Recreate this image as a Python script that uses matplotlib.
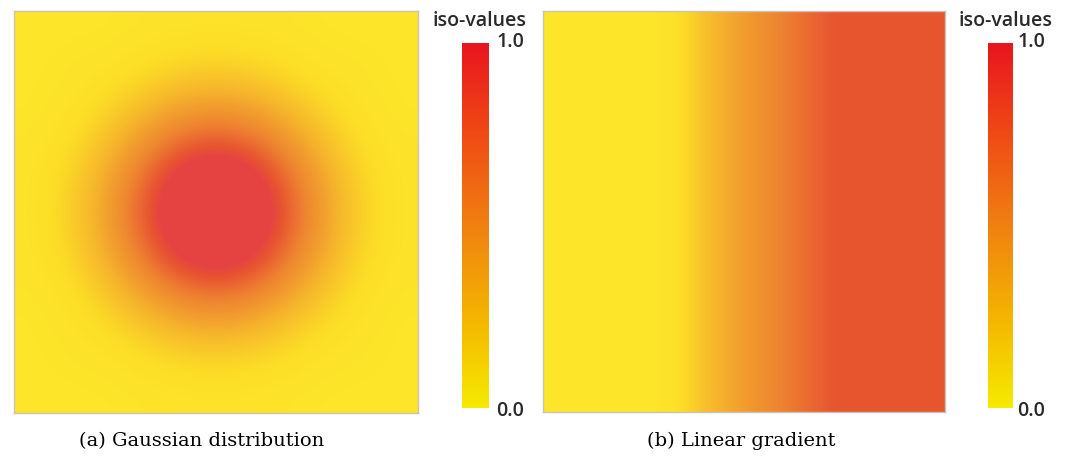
import numpy as np
import matplotlib
matplotlib.use("Agg")
import matplotlib.pyplot as plt
from matplotlib.colors import LinearSegmentedColormap, Normalize
from matplotlib.cm import ScalarMappable

# iso-values (values above 1.0 saturate to the top colour)
gaussian_grid = [
    [0.00, 0.00, 0.00, 0.01, 0.02, 0.02, 0.02, 0.01, 0.00, 0.00, 0.00],
    [0.00, 0.01, 0.02, 0.05, 0.08, 0.10, 0.08, 0.05, 0.02, 0.01, 0.00],
    [0.00, 0.02, 0.07, 0.16, 0.28, 0.33, 0.28, 0.16, 0.07, 0.02, 0.00],
    [0.01, 0.05, 0.16, 0.39, 0.66, 0.79, 0.66, 0.39, 0.16, 0.05, 0.01],
    [0.02, 0.08, 0.28, 0.66, 1.13, 1.34, 1.13, 0.66, 0.28, 0.08, 0.02],
    [0.02, 0.10, 0.33, 0.79, 1.34, 1.60, 1.34, 0.79, 0.33, 0.10, 0.02],
    [0.02, 0.08, 0.28, 0.66, 1.13, 1.34, 1.13, 0.66, 0.28, 0.08, 0.02],
    [0.01, 0.05, 0.16, 0.39, 0.66, 0.79, 0.66, 0.39, 0.16, 0.05, 0.01],
    [0.00, 0.02, 0.07, 0.16, 0.28, 0.33, 0.28, 0.16, 0.07, 0.02, 0.00],
    [0.00, 0.01, 0.02, 0.05, 0.08, 0.10, 0.08, 0.05, 0.02, 0.01, 0.00],
    [0.00, 0.00, 0.00, 0.01, 0.02, 0.02, 0.02, 0.01, 0.00, 0.00, 0.00],
]
gradient_row = [0.0, 0.0, 0.0, 0.0, 0.0, 0.0, 0.03, 0.12, 0.23, 0.33,
                0.43, 0.54, 0.64, 0.75, 0.85, 0.85, 0.85, 0.85, 0.85, 0.85]
bar_labels = ["0.0", "1.0"]
bar_title = "iso-values"
captions = ["(a) Gaussian distribution", "(b) Linear gradient"]

# colours
img_cmap = LinearSegmentedColormap.from_list("img", [
    (0.0, "#FDE52A"), (0.06, "#FCDE26"), (0.155, "#F9C62A"), (0.36, "#F2A02E"),
    (0.567, "#EE8430"), (0.77, "#EA6232"), (0.85, "#E8562F"), (1.0, "#E54242")])
img_cmap.set_over("#E54242")
img_cmap.set_under("#FDE52A")
bar_cmap = LinearSegmentedColormap.from_list("bar", [
    (0.0, "#F5EA00"), (0.25, "#F4B400"), (0.5, "#F08010"),
    (0.75, "#EF4A14"), (1.0, "#E8141E")])
norm = Normalize(vmin=0, vmax=1)

W, H = 1065, 466
fig = plt.figure(figsize=(W / 100, H / 100), dpi=100)

def px(x0, y0, x1, y1):
    return [x0 / W, 1 - y1 / H, (x1 - x0) / W, (y1 - y0) / H]

panels = [
    (np.array(gaussian_grid), "bicubic", px(14, 11, 418, 413), px(462, 43, 489, 408), 480, 510, 202),
    (np.array([gradient_row]), "bilinear", px(543, 11, 945, 412), px(988, 43, 1013, 408), 1006, 1031, 741),
]

for i, (data, interp, img_box, bar_box, tx, lx, cx) in enumerate(panels):
    ax = fig.add_axes(img_box)
    ax.imshow(data, cmap=img_cmap, norm=norm, interpolation=interp, aspect="auto")
    ax.set_xticks([])
    ax.set_yticks([])
    for s in ax.spines.values():
        s.set_color("#C9C4B8")
        s.set_linewidth(1.0)

    cax = fig.add_axes(bar_box)
    cb = fig.colorbar(ScalarMappable(norm=norm, cmap=bar_cmap), cax=cax)
    cb.outline.set_visible(False)
    cb.set_ticks([])

    fig.text(tx / W, 1 - 21 / H, bar_title, ha="center", va="center",
             fontsize=14, color="#2A2A2A", family="Open Sans", fontweight="semibold")
    fig.text(lx / W, 1 - 42 / H, bar_labels[1], ha="center", va="center",
             fontsize=14, color="#2A2A2A", family="Open Sans", fontweight="semibold")
    fig.text(lx / W, 1 - 411 / H, bar_labels[0], ha="center", va="center",
             fontsize=14, color="#2A2A2A", family="Open Sans", fontweight="semibold")
    fig.text(cx / W, 1 - 441 / H, captions[i], ha="center", va="center",
             fontsize=14, color="#000000", family="DejaVu Serif")

fig.savefig("out.png", dpi=100)
